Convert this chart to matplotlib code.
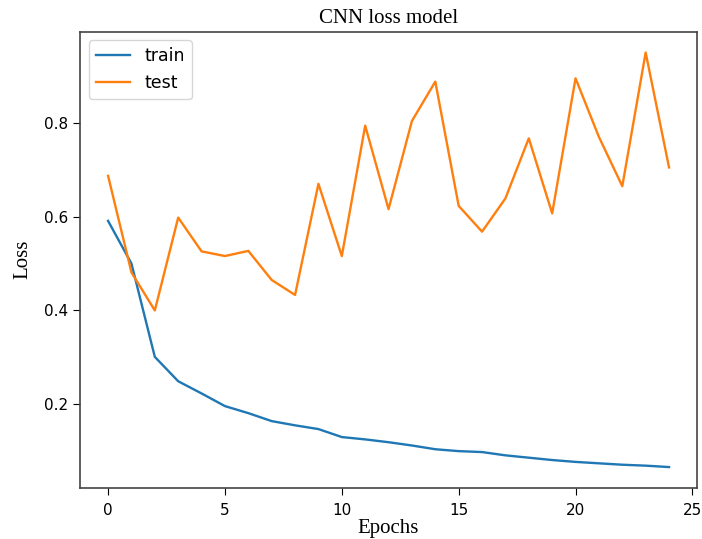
import matplotlib
matplotlib.use("Agg")
import matplotlib.pyplot as plt

epochs = list(range(25))
train_loss = [0.591, 0.500, 0.301, 0.249, 0.223, 0.196, 0.181, 0.164, 0.155, 0.147,
              0.130, 0.125, 0.119, 0.112, 0.104, 0.100, 0.098, 0.091, 0.086, 0.081,
              0.077, 0.074, 0.071, 0.069, 0.066]
test_loss = [0.687, 0.481, 0.400, 0.598, 0.526, 0.516, 0.527, 0.465, 0.433, 0.670,
             0.516, 0.794, 0.616, 0.804, 0.888, 0.623, 0.568, 0.639, 0.767, 0.607,
             0.895, 0.770, 0.665, 0.950, 0.705]
x_ticks = [0, 5, 10, 15, 20, 25]
y_ticks = [0.2, 0.4, 0.6, 0.8]

serif = ["Liberation Serif", "DejaVu Serif"]

fig = plt.figure(figsize=(7.02, 5.39), dpi=100)
ax = fig.add_axes([0.114, 0.095, 0.879, 0.846])

ax.plot(epochs, train_loss, color="#1f77b4", linewidth=1.7, label="train")
ax.plot(epochs, test_loss, color="#ff7f0e", linewidth=1.7, label="test")

ax.set_xticks(x_ticks)
ax.set_yticks(y_ticks)
ax.tick_params(labelsize=11, length=5)
ax.tick_params(axis="x", pad=6)
for s in ax.spines.values():
    s.set_color("#444444")
    s.set_linewidth(1.2)

ax.set_title("CNN loss model", family=serif, fontsize=15, pad=6)
ax.set_xlabel("Epochs", family=serif, fontsize=15, labelpad=1)
ax.set_ylabel("Loss", family=serif, fontsize=15, labelpad=8)
ax.legend(loc="upper left", fontsize=12.5)

fig.savefig("out.png", dpi=100)
